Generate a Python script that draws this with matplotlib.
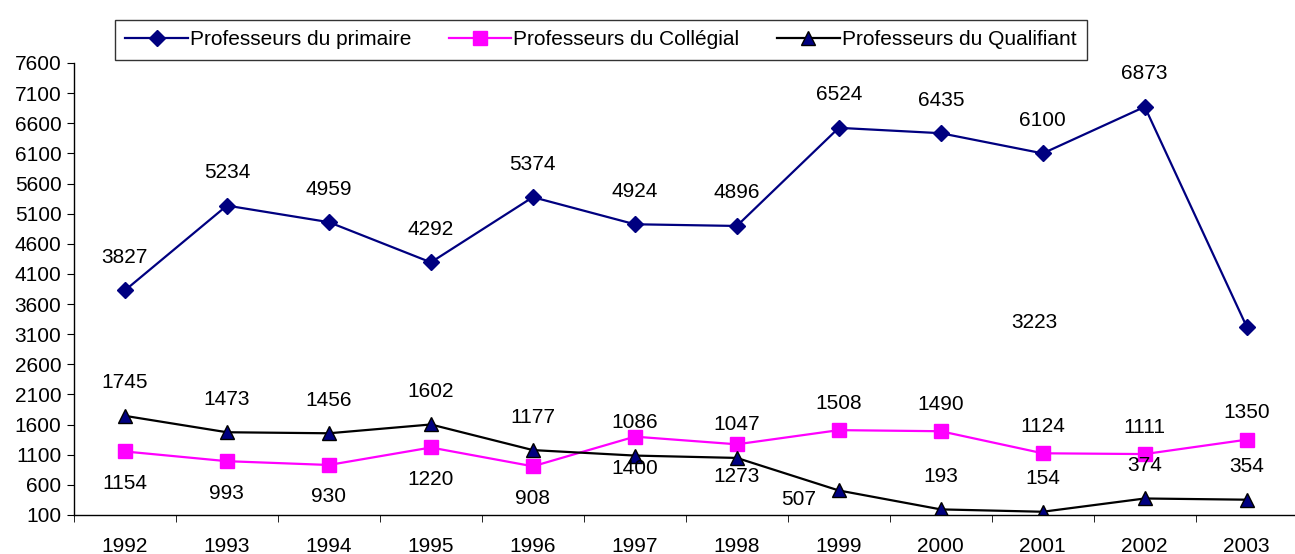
import matplotlib.pyplot as plt

plt.rcParams['font.family'] = ['Liberation Sans', 'DejaVu Sans']

annees = ['1992', '1993', '1994', '1995', '1996', '1997', '1998', '1999', '2000', '2001', '2002', '2003']
primaire = [3827, 5234, 4959, 4292, 5374, 4924, 4896, 6524, 6435, 6100, 6873, 3223]
collegial = [1154, 993, 930, 1220, 908, 1400, 1273, 1508, 1490, 1124, 1111, 1350]
qualifiant = [1745, 1473, 1456, 1602, 1177, 1086, 1047, 507, 193, 154, 374, 354]

fig = plt.figure(figsize=(12.95, 5.54), dpi=100)
ax = fig.add_axes([0.0571, 0.0704, 0.945, 0.8159])

x = range(len(annees))
ax.plot(x, primaire, color='#000080', lw=1.6, marker='D', ms=8.5,
        mfc='#000080', mec='#000080', label='Professeurs du primaire')
ax.plot(x, collegial, color='#FF00FF', lw=1.6, marker='s', ms=10,
        mfc='#FF00FF', mec='#FF00FF', label='Professeurs du Collégial')
ax.plot(x, qualifiant, color='black', lw=1.6, marker='^', ms=10,
        mfc='#000080', mec='black', mew=1, label='Professeurs du Qualifiant')

# position des étiquettes (décalage en pixels)
def etiquettes(vals, dx, dy, speciaux={}):
    for i, v in enumerate(vals):
        ox, oy = speciaux.get(i, (dx[i] if isinstance(dx, list) else dx,
                                  dy[i] if isinstance(dy, list) else dy))
        ax.annotate(str(v), (i, v), xytext=(ox * 0.72, oy * 0.72),
                    textcoords='offset points', ha='center', va='center',
                    fontsize=15)

etiquettes(primaire, 0, 33, {11: (-212, 4)})
etiquettes(collegial, 0, [-32] * 7 + [27] * 5)
etiquettes(qualifiant, 0, 33, {7: (-40, -9)})

ax.set_xlim(-0.5, len(annees) - 0.5)
ax.set_ylim(100, 7600)
ax.set_yticks(range(100, 7601, 500))
ax.set_xticks(x)
ax.set_xticklabels(annees)
ax.set_xticks([i - 0.5 for i in range(len(annees) + 1)], minor=True)
ax.tick_params(axis='x', which='major', length=0, pad=16, labelsize=15)
ax.tick_params(axis='x', which='minor', length=5, direction='out')
ax.tick_params(axis='y', length=5, direction='out', labelsize=15, pad=4)
ax.spines['top'].set_visible(False)
ax.spines['right'].set_visible(False)
for s in ['left', 'bottom']:
    ax.spines[s].set_color('black')
    ax.spines[s].set_linewidth(1)

leg = fig.legend(loc='center', bbox_to_anchor=(0.464, 0.928), ncol=3,
                 fontsize=15, frameon=True, fancybox=False, shadow=False,
                 handlelength=3.0, handletextpad=0.1, columnspacing=1.8,
                 borderpad=0.5, edgecolor='black')
leg.get_frame().set_linewidth(1)

fig.savefig('out.png', dpi=100)
